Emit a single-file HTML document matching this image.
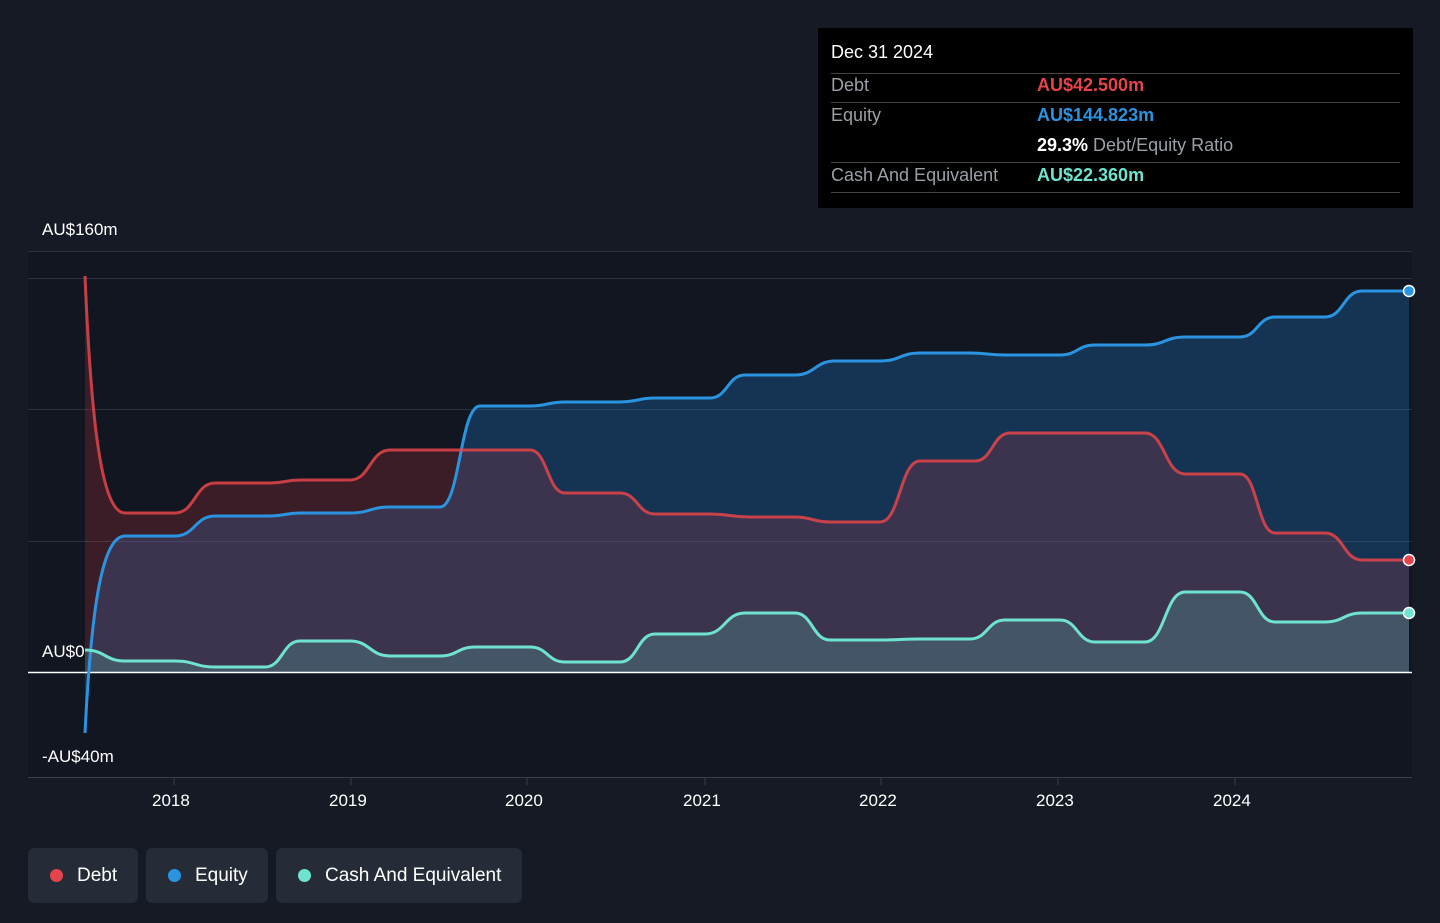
<!DOCTYPE html>
<html><head><meta charset="utf-8"><style>
body{margin:0;width:1440px;height:923px;background:#151a24;font-family:"Liberation Sans",sans-serif;overflow:hidden;position:relative}
.t{position:absolute;color:#fff;font-size:17px}
.tip{position:absolute;left:818px;top:28px;width:595px;height:180px;background:#000}
.row{position:absolute;left:13px;width:569px;border-bottom:1px solid #444;font-size:18px;color:#9aa0a8}
.leg{position:absolute;top:848px;height:55px;background:#262c37;border-radius:6px;color:#fff;font-size:19px;line-height:55px}
.dot{display:inline-block;width:13px;height:13px;border-radius:50%;margin:0 14px 0 22px;vertical-align:-1px}
</style></head><body>
<svg width="1440" height="923" style="position:absolute;left:0;top:0">
<rect x="28" y="251" width="1384" height="526" fill="#121620"/>
<g stroke="#2c323d" stroke-width="1">
<line x1="28" x2="1412" y1="251.5" y2="251.5"/><line x1="28" x2="1412" y1="278.5" y2="278.5"/>
<line x1="28" x2="1412" y1="409.5" y2="409.5"/><line x1="28" x2="1412" y1="541.5" y2="541.5"/>
<line x1="28" x2="1412" y1="777.5" y2="777.5" stroke="#3a404a"/>
</g>
<g stroke="#3a404a"><line x1="174" x2="174" y1="777" y2="785"/><line x1="351" x2="351" y1="777" y2="785"/><line x1="527" x2="527" y1="777" y2="785"/><line x1="705" x2="705" y1="777" y2="785"/><line x1="881" x2="881" y1="777" y2="785"/><line x1="1058" x2="1058" y1="777" y2="785"/><line x1="1235" x2="1235" y1="777" y2="785"/></g>
<path id="ef" fill="rgba(30,120,200,0.3)"/>
<path id="df" fill="rgba(220,60,70,0.2)"/>
<path id="cf" fill="rgba(100,220,200,0.2)"/>
<line x1="28" x2="1412" y1="672.5" y2="672.5" stroke="#fff" stroke-width="1.5"/>
<path id="el" fill="none" stroke="#2b94e0" stroke-width="3"/>
<path id="dl" fill="none" stroke="#e5454a" stroke-width="3" opacity="0.85"/>
<path id="cl" fill="none" stroke="#6fe3cf" stroke-width="3"/>
<circle cx="1409" cy="291" r="5.5" fill="#2b94e0" stroke="#fff" stroke-width="1.5"/>
<circle cx="1409" cy="560" r="5.5" fill="#e5454a" stroke="#fff" stroke-width="1.5"/>
<circle cx="1409" cy="613" r="5.5" fill="#6fe3cf" stroke="#fff" stroke-width="1.5"/>
</svg>
<div class="t" style="left:42px;top:220px">AU$160m</div>
<div class="t" style="left:42px;top:642px">AU$0</div>
<div class="t" style="left:42px;top:747px">-AU$40m</div>
<div class="t" style="left:152px;top:791px">2018</div><div class="t" style="left:329px;top:791px">2019</div><div class="t" style="left:505px;top:791px">2020</div><div class="t" style="left:683px;top:791px">2021</div><div class="t" style="left:859px;top:791px">2022</div><div class="t" style="left:1036px;top:791px">2023</div><div class="t" style="left:1213px;top:791px">2024</div>
<div class="tip">
<div class="row" style="top:14px;height:31px;color:#fff">Dec 31 2024</div>
<div class="row" style="top:47px;height:27px">Debt<span style="position:absolute;left:206px;color:#e5454a;font-weight:bold">AU$42.500m</span></div>
<div class="row" style="top:77px;height:27px;border:none">Equity<span style="position:absolute;left:206px;color:#2b94e0;font-weight:bold">AU$144.823m</span></div>
<div class="row" style="top:107px;height:27px"><span style="position:absolute;left:206px"><b style="color:#fff">29.3%</b> Debt/Equity Ratio</span></div>
<div class="row" style="top:137px;height:27px">Cash And Equivalent<span style="position:absolute;left:206px;color:#6fe3cf;font-weight:bold">AU$22.360m</span></div>
</div>
<div class="leg" style="left:28px;width:110px"><span class="dot" style="background:#e5454a"></span>Debt</div>
<div class="leg" style="left:146px;width:122px"><span class="dot" style="background:#2b94e0"></span>Equity</div>
<div class="leg" style="left:276px;width:246px"><span class="dot" style="background:#6fe3cf"></span>Cash And Equivalent</div>
<script>
function P(a,first){let d="M"+a[0][0]+","+a[0][1];for(let i=1;i<a.length;i++){const[x0,y0]=a[i-1],[x1,y1]=a[i],h=(x1-x0)/2;
if(i==1&&first){d+=` C${x0+6},${y0+(y1-y0)*0.6} ${x1-24},${y1} ${x1},${y1}`;continue;}
d+=` C${x0+h},${y0} ${x1-h},${y1} ${x1},${y1}`;}return d;}
function S(id,a,f){document.getElementById(id+"l").setAttribute("d",P(a,f));document.getElementById(id+"f").setAttribute("d",P(a,f)+` L${a[a.length-1][0]},672 L${a[0][0]},672 Z`);}
S("d",[[85,276],[125,513],[175,513],[215,483],[270,483],[300,480],[350,480],[390,450],[460,450],[530,450],[565,493],[620,493],[655,514],[710,514],[750,517],[795,517],[830,522],[880,522],[920,461],[975,461],[1010,433],[1145,433],[1185,474],[1240,474],[1275,533],[1325,533],[1362,560],[1409,560]],true);
S("e",[[85,733],[125,536],[175,536],[215,516],[270,516],[300,513],[350,513],[390,507],[440,507],[480,406],[530,406],[565,402],[620,402],[655,398],[710,398],[745,375],[795,375],[835,361],[880,361],[920,353],[970,353],[1005,355],[1060,355],[1095,345],[1145,345],[1185,337],[1240,337],[1275,317],[1325,317],[1362,291],[1409,291]],true);
S("c",[[85,650],[125,661],[175,661],[215,667],[265,667],[300,641],[350,641],[390,656],[440,656],[475,647],[530,647],[565,662],[620,662],[655,634],[705,634],[745,613],[795,613],[830,640],[880,640],[920,639],[970,639],[1005,620],[1060,620],[1095,642],[1145,642],[1185,592],[1240,592],[1275,622],[1325,622],[1362,613],[1409,613]],false);
</script>
</body></html>
